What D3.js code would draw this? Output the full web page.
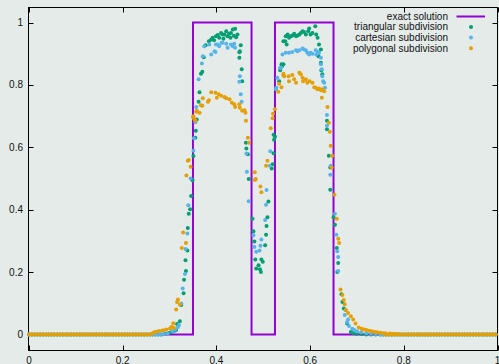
<!DOCTYPE html>
<html><head><meta charset="utf-8">
<script src="https://cdn.jsdelivr.net/npm/d3@7"></script>
<style>
html,body{margin:0;padding:0;background:#e4ebe9;}
svg{display:block;}
text{font-family:"Liberation Sans",Arial,sans-serif;font-size:10px;fill:#111;}
</style></head>
<body>
<svg id="c" width="499" height="364"></svg>
<script>
// ---- data ----
const xTicks = [0, 0.2, 0.4, 0.6, 0.8, 1];
const yTicks = [0, 0.2, 0.4, 0.6, 0.8, 1];
const seriesNames = ["exact solution", "triangular subdivision", "cartesian subdivision", "polygonal subdivision"];
const seriesColors = ["#9400d3", "#009e73", "#56b4e9", "#e69f00"];

const exactX = [0, 0.35, 0.35, 0.475, 0.475, 0.525, 0.525, 0.65, 0.65, 1];
const exactY = [0, 0, 1, 1, 0, 0, 1, 1, 0, 0];

// x positions where all three approximations are flat at zero
const flatX = [0,.006,.012,.018,.024,.03,.036,.042,.048,.054,.06,.066,.072,.078,.084,.09,.096,.102,.108,.114,.12,.126,.132,.138,.144,.15,.156,.162,.168,.174,.18,.186,.192,.198,.204,.21,.216,.222,.228,.234,.24,.246,.252,.258,
  .762,.768,.774,.78,.786,.792,.798,.804,.81,.816,.822,.828,.834,.84,.846,.852,.858,.864,.87,.876,.882,.888,.894,.9,.906,.912,.918,.924,.93,.936,.942,.948,.954,.96,.966,.972,.978,.984,.99,.996];

const triangular = [
 [.264,0],[.27,0],[.276,0],[.282,0],[.29,.003],[.300,.005],[.305,.008],[.310,.012],[.314,.014],[.316,.033],[.322,.042],[.325,.094],[.330,.132],[.331,.175],[.334,.238],[.335,.203],[.338,.269],[.339,.341],[.341,.387],[.344,.401],[.346,.444],[.349,.494],
 [.351,.572],[.355,.631],[.356,.653],[.358,.689],[.362,.746],[.364,.777],[.367,.836],[.370,.842],[.373,.889],[.377,.927],[.384,.940],[.389,.946],[.392,.951],[.395,.943],[.399,.956],[.403,.960],[.406,.951],[.410,.967],[.413,.962],[.415,.948],[.417,.962],[.421,.972],[.424,.956],[.427,.964],[.430,.951],[.431,.967],[.435,.978],[.437,.958],[.440,.980],[.442,.953],[.445,.962],
 [.449,.905],[.449,.887],[.450,.908],[.452,.927],[.454,.850],[.455,.812],[.463,.615],[.464,.596],[.467,.578],[.469,.498],
 [.477,.371],[.479,.331],[.481,.298],[.483,.240],[.485,.211],[.490,.222],[.493,.209],[.495,.200],[.496,.240],[.499,.233],[.504,.286],[.506,.320],[.507,.348],[.509,.376],[.511,.426],[.518,.532],[.520,.546],[.522,.581],[.522,.640],[.523,.624],[.525,.634],
 [.534,.812],[.536,.847],[.539,.866],[.540,.860],[.543,.866],[.543,.940],[.547,.940],[.550,.930],
 [.548,.956],[.552,.962],[.555,.951],[.559,.956],[.562,.959],[.566,.964],[.570,.956],[.573,.959],[.577,.962],[.580,.967],[.584,.972],[.587,.970],[.591,.962],[.596,.972],[.598,.981],[.601,.962],[.605,.967],[.611,.988],[.613,.962],[.616,.951],[.618,.892],[.619,.930],[.623,.914],[.623,.871],[.624,.847],[.626,.834],
 [.636,.685],[.636,.658],[.640,.573],[.643,.535],[.643,.464],[.650,.376],[.653,.352],[.657,.277],[.658,.200],[.660,.229],[.667,.129],[.669,.104],[.672,.083],[.679,.035],[.687,.008],[.692,.004],[.700,.002],[.710,.001],[.720,0],[.730,0],[.740,0],[.750,0],[.756,0]
];

const cartesian = [
 [.264,0],[.27,0],[.276,0],[.282,0],[.288,.001],[.296,.004],[.306,.010],[.312,.016],[.318,.024],[.320,.030],[.325,.099],[.328,.147],[.333,.194],[.334,.274],[.338,.324],[.340,.414],[.345,.500],
 [.351,.589],[.352,.629],[.355,.680],[.357,.729],[.362,.818],[.369,.869],[.371,.892],[.374,.924],[.385,.930],[.389,.898],[.396,.908],[.398,.906],[.399,.930],[.403,.930],[.406,.924],[.411,.935],[.413,.935],[.421,.932],[.424,.919],[.431,.930],[.435,.924],[.438,.932],[.440,.919],
 [.449,.810],[.450,.828],[.452,.770],[.454,.746],[.464,.580],[.465,.522],[.469,.427],
 [.479,.318],[.481,.280],[.485,.265],[.492,.269],[.494,.284],[.496,.304],[.504,.367],[.506,.416],[.507,.463],[.514,.541],[.515,.587],[.527,.786],[.528,.791],[.530,.823],[.536,.855],[.538,.855],[.541,.898],
 [.548,.903],[.555,.903],[.562,.906],[.570,.911],[.573,.908],[.577,.911],[.584,.917],[.587,.914],[.591,.911],[.594,.903],[.598,.898],[.601,.903],[.605,.900],[.612,.911],[.613,.898],[.616,.906],[.619,.903],[.623,.887],[.623,.866],[.625,.850],[.626,.828],[.628,.812],[.630,.807],[.632,.791],
 [.636,.704],[.636,.669],[.643,.512],[.644,.541],[.653,.387],[.656,.320],[.658,.267],[.660,.248],[.660,.203],[.674,.062],[.676,.078],[.679,.039],[.681,.048],[.683,.027],[.690,.018],[.694,.014],[.700,.010],[.709,.007],[.720,.004],[.730,.002],[.740,.001],[.750,0],[.756,0]
];

const polygonal = [
 [.264,.004],[.268,.008],[.274,.009],[.279,.011],[.286,.013],[.293,.016],[.301,.019],[.304,.024],[.308,.036],[.309,.021],[.314,.080],[.316,.104],[.318,.112],[.322,.096],[.326,.277],[.329,.327],[.335,.293],[.336,.510],[.339,.557],[.341,.559],[.345,.538],
 [.350,.697],[.351,.700],[.353,.690],[.355,.685],[.357,.714],[.358,.717],[.364,.711],[.367,.735],[.370,.733],[.371,.757],[.382,.746],[.384,.751],[.389,.777],[.398,.775],[.401,.759],[.405,.770],[.410,.765],[.417,.761],[.421,.757],[.428,.754],[.433,.743],[.438,.738],[.440,.729],[.449,.738],[.450,.727],[.455,.717],[.460,.719],[.462,.711],[.463,.685],[.467,.631],[.470,.615],
 [.482,.520],[.484,.498],[.482,.495],[.494,.474],[.496,.456],[.506,.541],[.509,.557],[.516,.661],[.520,.693],[.521,.708],[.525,.722],[.532,.778],[.534,.804],[.539,.793],[.543,.831],
 [.543,.836],[.545,.828],[.554,.828],[.555,.812],[.562,.832],[.566,.818],[.570,.807],[.577,.839],[.580,.834],[.584,.823],[.585,.812],[.591,.818],[.594,.807],[.599,.812],[.605,.807],[.609,.793],[.612,.791],[.616,.786],[.619,.789],[.623,.783],[.625,.759],[.626,.786],[.630,.780],
 [.637,.729],[.640,.679],[.642,.650],[.644,.605],[.646,.535],[.647,.573],[.652,.448],[.657,.371],[.660,.307],[.662,.293],[.665,.144],[.669,.126],[.672,.110],[.674,.097],[.676,.078],[.681,.069],[.687,.058],[.692,.048],[.697,.035],[.704,.022],[.710,.018],[.715,.016],[.720,.014],[.726,.012],[.732,.010],[.738,.008],[.743,.007],[.750,.005],[.756,.004],[.761,.004],[.770,.003],[.779,.002],[.786,.001]
];

// ---- drawing ----
const svg = d3.select("#c");
const x = d3.scaleLinear().domain([0, 1]).range([29, 497.5]);
const y = d3.scaleLinear().domain([-0.05, 1.05]).range([350, 7]);
const L = 28.5, R = 497.5, T = 7.5, B = 350.5;

// frame
svg.append("rect").attr("x", L).attr("y", T).attr("width", R - L).attr("height", B - T)
  .attr("fill", "none").attr("stroke", "#000").attr("stroke-width", 1);

// ticks (inward, mirrored)
const tk = 5;
const g = svg.append("g").attr("stroke", "#000").attr("stroke-width", 1);
xTicks.forEach(v => {
  const px = Math.round(x(v)) + 0.5;
  g.append("line").attr("x1", px).attr("x2", px).attr("y1", B).attr("y2", B - tk);
  g.append("line").attr("x1", px).attr("x2", px).attr("y1", T).attr("y2", T + tk);
});
yTicks.forEach(v => {
  const py = Math.round(y(v)) + 0.5;
  g.append("line").attr("x1", L).attr("x2", L + tk).attr("y1", py).attr("y2", py);
  g.append("line").attr("x1", R).attr("x2", R - tk).attr("y1", py).attr("y2", py);
});
const fmt = v => v === 0 ? "0" : v === 1 ? "1" : d3.format(".1f")(v);
svg.append("g").selectAll("text").data(xTicks).join("text")
  .attr("x", d => x(d)).attr("y", 363.5).attr("text-anchor", "middle").text(fmt);
svg.append("g").selectAll("text").data(yTicks).join("text")
  .attr("x", 23).attr("y", d => y(d) + 3.5).attr("text-anchor", "end").text(fmt);

// exact solution
const line = d3.line().x(d => x(d[0])).y(d => y(d[1]));
svg.append("path").datum(exactX.map((v, i) => [v, exactY[i]]))
  .attr("d", line).attr("fill", "none").attr("stroke", seriesColors[0]).attr("stroke-width", 2);

// point series
const sets = [triangular, cartesian, polygonal];
sets.forEach((s, i) => {
  const pts = flatX.map(v => [v, 0]).concat(s);
  svg.append("g").selectAll("circle").data(pts).join("circle")
    .attr("cx", d => x(d[0])).attr("cy", d => y(d[1])).attr("r", 2)
    .attr("fill", seriesColors[i + 1]);
});

// legend
const lg = svg.append("g");
seriesNames.forEach((n, i) => {
  const by = 19.5 + i * 10.7;
  lg.append("text").attr("x", 448).attr("y", by).attr("text-anchor", "end").text(n);
  if (i === 0) {
    lg.append("line").attr("x1", 456.5).attr("x2", 485).attr("y1", by - 3).attr("y2", by - 3)
      .attr("stroke", seriesColors[0]).attr("stroke-width", 2);
  } else {
    lg.append("circle").attr("cx", 471).attr("cy", by - 3.3).attr("r", 2).attr("fill", seriesColors[i]);
  }
});
</script>
</body></html>
